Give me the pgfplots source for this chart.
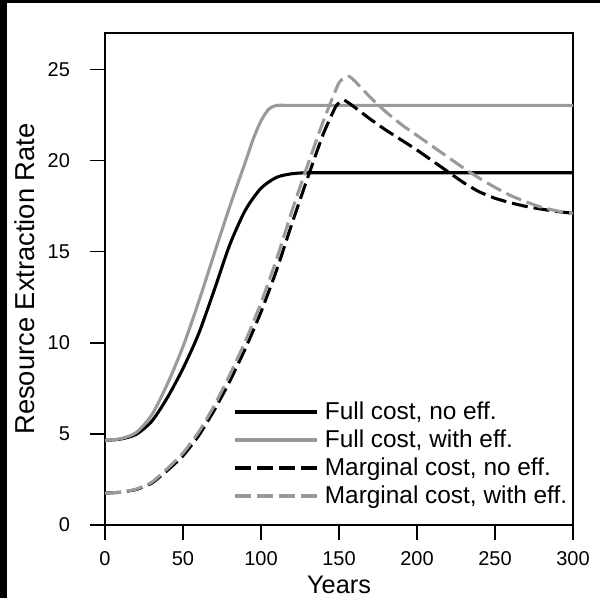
\documentclass[border=0pt]{standalone}
\usepackage{pgfplots}
\pgfplotsset{compat=1.18}
\usepackage{fontspec}
\setmainfont{Liberation Sans}
\definecolor{lgray}{HTML}{9A9A9A}
\begin{document}
\begin{tikzpicture}
\useasboundingbox[fill=white] (-78.75pt,-54.75pt) rectangle (371.25pt,393.75pt);
\fill[black] (-78.75pt,-54.75pt) rectangle (-73.25pt,393.75pt);
\fill[black] (-78.75pt,391.25pt) rectangle (371.25pt,393.75pt);
\begin{axis}[
  at={(0,0)}, anchor=south west,
  scale only axis, width=351pt, height=369pt,
  xmin=0, xmax=300, ymin=0, ymax=27.03,
  xtick={0,50,...,300}, ytick={0,5,...,25},
  xtick pos=bottom, ytick pos=left,
  tick align=outside, major tick length=11.25pt,
  tick style={line width=0.8pt, black},
  axis line style={line width=0.8pt},
  /pgf/number format/assume math mode=true,
  ticklabel style={font=\fontsize{15}{17}\selectfont},
  xticklabel style={yshift=-5pt},
  yticklabel style={xshift=-11.5pt},
  xlabel={Years}, ylabel={Resource Extraction Rate},
  xlabel style={font=\fontsize{19}{22}\selectfont, at={([yshift=-45pt]rel axis cs:0.5,0)}, anchor=center},
  ylabel style={font=\fontsize{20.5}{22}\selectfont, at={([xshift=-60pt]rel axis cs:0,0.5)}, anchor=center, rotate=0},
  legend cell align=left,
  legend style={at={(rel axis cs:0.263,0.2587)}, anchor=north west, draw=none, fill=none,
    font=\fontsize{18.3}{20}\selectfont, row sep=4.25pt, column sep=3pt,
    nodes={inner sep=1pt}},
  legend image code/.code={\draw[#1,line width=3.4pt] (0pt,0pt) -- (62pt,0pt);},
  every axis plot/.append style={line width=2.3pt, line cap=butt, line join=round},
]
\addplot[black, smooth, tension=0.45] coordinates {
(0,4.65) (10,4.72) (20,4.98) (30,5.7) (40,7.0) (50,8.6) (60,10.5) (70,12.9) (80,15.4) (90,17.3) (100,18.5) (110,19.1) (120,19.3) (130,19.35) (150,19.35) (200,19.35) (250,19.35) (300,19.35)};
\addlegendentry{Full cost, no eff.}
\addplot[lgray, smooth, tension=0.45] coordinates {
(0,4.65) (10,4.74) (20,5.08) (30,6.05) (40,7.75) (50,9.8) (60,12.25) (70,14.9) (80,17.5) (90,19.95) (95,21.2) (100,22.2) (105,22.85) (110,23.05) (120,23.05) (150,23.05) (200,23.05) (250,23.05) (300,23.05)};
\addlegendentry{Full cost, with eff.}
\addplot[black, dash pattern=on 12pt off 4.5pt, smooth, tension=0.3] coordinates {
(0,1.75) (10,1.8) (20,1.95) (30,2.3) (40,3.0) (50,3.8) (60,4.9) (70,6.3) (80,7.9) (90,9.7) (100,11.7) (110,14.0) (120,16.6) (130,19.1) (140,21.5) (148,23.0) (153,23.35) (160,22.95) (170,22.3) (180,21.7) (190,21.15) (200,20.6) (210,20.0) (220,19.4) (230,18.8) (240,18.3) (250,17.95) (260,17.7) (270,17.5) (280,17.35) (290,17.22) (300,17.13)};
\addlegendentry{Marginal cost, no eff.}
\addplot[lgray, dash pattern=on 12pt off 4.5pt, smooth, tension=0.3] coordinates {
(0,1.75) (10,1.8) (20,1.97) (30,2.35) (40,3.1) (50,3.95) (60,5.1) (70,6.55) (80,8.25) (90,10.1) (100,12.2) (110,14.6) (120,17.3) (130,19.8) (140,22.2) (150,24.3) (156,24.65) (160,24.4) (170,23.5) (180,22.7) (190,22.0) (200,21.4) (210,20.8) (220,20.2) (230,19.6) (240,19.05) (250,18.55) (260,18.1) (270,17.75) (280,17.45) (290,17.25) (300,17.13)};
\addlegendentry{Marginal cost, with eff.}
\end{axis}
\end{tikzpicture}
\end{document}
